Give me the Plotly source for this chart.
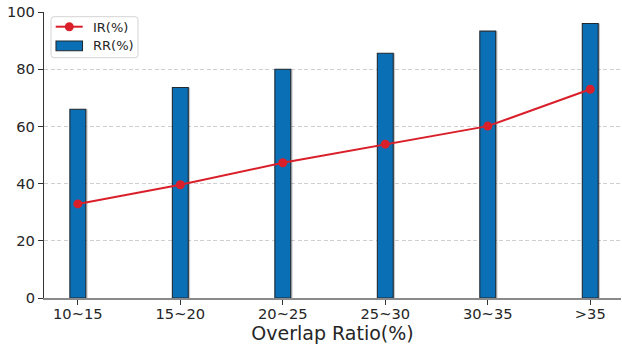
import plotly.graph_objects as go

categories = ["10~15", "15~20", "20~25", "25~30", "30~35", ">35"]
rr_values = [66.0, 73.6, 80.0, 85.6, 93.3, 96.0]
ir_values = [32.9, 39.6, 47.3, 53.8, 60.1, 73.0]
y_ticks = [0, 20, 40, 60, 80, 100]

BLUE = "#0b6fb5"
RED = "#d9202a"
W, H = 622, 352
ML, MR, MT, MB = 44, 1, 12, 54
PW, PH = W - ML - MR, H - MT - MB

x_pos = list(range(len(categories)))
bar_w = 0.155


def px(xp):
    """Pixel column -> paper x."""
    return (xp - ML) / PW


def py(yp):
    """Pixel row -> paper y."""
    return (H - MB - yp) / PH


fig = go.Figure()

# soft shadow behind each bar
fig.add_trace(go.Bar(
    x=x_pos, y=rr_values, width=bar_w, offset=-bar_w / 2 + 0.018,
    marker=dict(color="rgba(0,0,0,0.22)", line=dict(width=0)),
    showlegend=False, hoverinfo="skip",
))
fig.add_trace(go.Bar(
    x=x_pos, y=rr_values, width=bar_w, offset=-bar_w / 2,
    name="RR(%)", showlegend=False,
    marker=dict(color=BLUE, line=dict(color="#1f2a33", width=1.1)),
))
fig.add_trace(go.Scatter(
    x=x_pos, y=ir_values, mode="lines+markers", name="IR(%)", showlegend=False,
    line=dict(color=RED, width=2),
    marker=dict(color=RED, size=9),
))

# legend box drawn in paper space
x0, x1, y0, y1, r = 51, 138, 16.7, 57.7, 3
box_path = (
    f"M {px(x0 + r)},{py(y0)} L {px(x1 - r)},{py(y0)} "
    f"Q {px(x1)},{py(y0)} {px(x1)},{py(y0 + r)} L {px(x1)},{py(y1 - r)} "
    f"Q {px(x1)},{py(y1)} {px(x1 - r)},{py(y1)} L {px(x0 + r)},{py(y1)} "
    f"Q {px(x0)},{py(y1)} {px(x0)},{py(y1 - r)} L {px(x0)},{py(y0 + r)} "
    f"Q {px(x0)},{py(y0)} {px(x0 + r)},{py(y0)} Z"
)
shapes = [
    dict(type="path", path=box_path, xref="paper", yref="paper",
         fillcolor="rgba(255,255,255,0.85)", line=dict(color="#d4d4d4", width=1)),
    dict(type="line", xref="paper", yref="paper",
         x0=px(55.7), x1=px(82.7), y0=py(26.7), y1=py(26.7),
         line=dict(color=RED, width=2)),
    dict(type="circle", xref="paper", yref="paper",
         x0=px(69.3 - 4.5), x1=px(69.3 + 4.5), y0=py(26.7 + 4.5), y1=py(26.7 - 4.5),
         fillcolor=RED, line=dict(color=RED, width=0)),
    dict(type="rect", xref="paper", yref="paper",
         x0=px(56), x1=px(82.5), y0=py(50.7), y1=py(41),
         fillcolor=BLUE, line=dict(color="#1f2a33", width=1.1)),
]
annotations = [
    dict(text="IR(%)", xref="paper", yref="paper", x=px(91), y=py(27.2),
         xanchor="left", yanchor="middle", showarrow=False,
         font=dict(size=13, color="#262626")),
    dict(text="RR(%)", xref="paper", yref="paper", x=px(91), y=py(45.5),
         xanchor="left", yanchor="middle", showarrow=False,
         font=dict(size=13, color="#262626")),
]

fig.update_layout(
    width=W, height=H,
    margin=dict(l=ML, r=MR, t=MT, b=MB),
    plot_bgcolor="white", paper_bgcolor="white",
    barmode="overlay",
    showlegend=False,
    font=dict(family="DejaVu Sans", size=14.67, color="#262626"),
    shapes=shapes,
    annotations=annotations,
)
fig.update_xaxes(
    range=[-0.33, 5.3], tickvals=x_pos, ticktext=categories,
    ticks="outside", ticklen=5, tickcolor="#333", showgrid=False,
    ticklabelstandoff=-3,
    showline=True, linecolor="#8a8a8a", linewidth=1.5,
    title=dict(text="Overlap Ratio(%)", font=dict(size=19, color="#262626"), standoff=5),
    zeroline=False,
)
fig.update_yaxes(
    range=[0, 100], tickvals=y_ticks,
    ticks="outside", ticklen=5, tickcolor="#333",
    showline=True, linecolor="#333", linewidth=1.2,
    showgrid=True, gridcolor="#cfcfcf", griddash="4px,2.5px", gridwidth=1,
    zeroline=False,
)

fig.write_html("out.html")
